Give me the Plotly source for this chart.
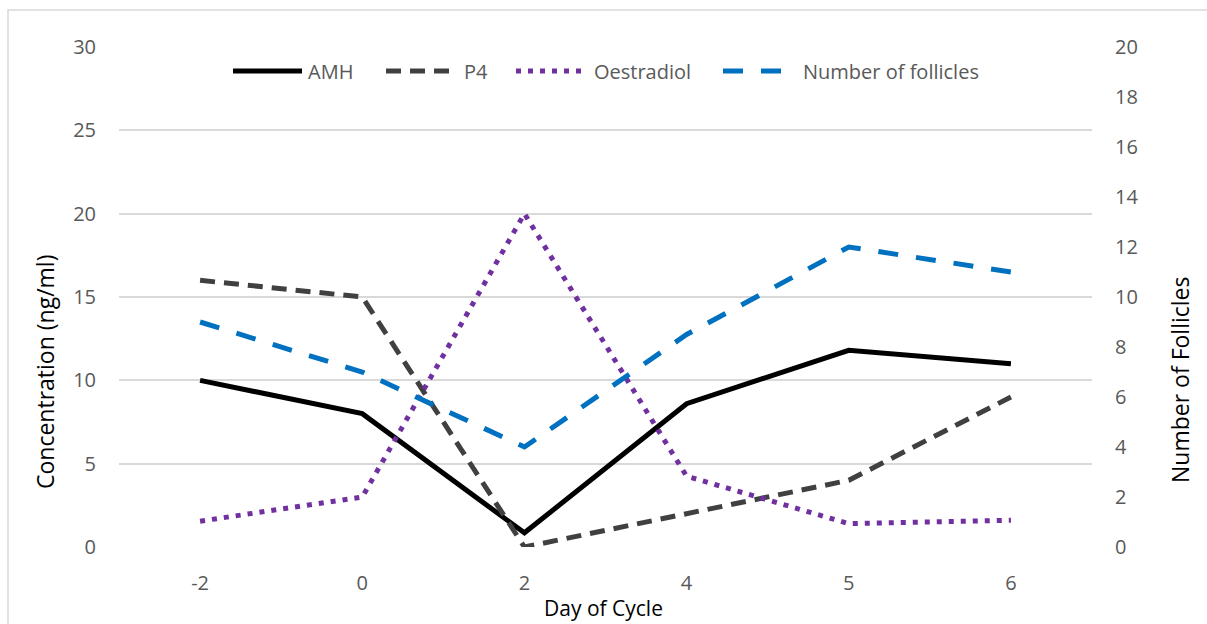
import plotly.graph_objects as go

# Data
days = ["-2", "0", "2", "4", "5", "6"]
amh = [10.0, 8.0, 0.85, 8.6, 11.8, 11.0]
p4 = [16.0, 15.0, 0.0, 2.0, 4.0, 9.0]
oestradiol = [1.55, 3.0, 20.0, 4.25, 1.4, 1.6]
follicles = [9.0, 7.0, 4.0, 8.5, 12.0, 11.0]

left_ticks = [0, 5, 10, 15, 20, 25, 30]
right_ticks = [0, 2, 4, 6, 8, 10, 12, 14, 16, 18, 20]

W, H = 1207, 624
ML, MR, MT, MB = 119, 115, 47, 77
PW, PH = W - ML - MR, H - MT - MB

FONT = "Open Sans"
TICK_COLOR = "#595959"
GRID = "#D9D9D9"

series = [
    dict(name="AMH", y=amh, color="#000000", dash="solid", width=5, axis="y"),
    dict(name="P4", y=p4, color="#404040", dash="15px,9px", width=5, axis="y"),
    dict(name="Oestradiol", y=oestradiol, color="#7030A0", dash="5px,7px", width=5, axis="y"),
    dict(name="Number of follicles", y=follicles, color="#0070C0", dash="20px,18px", width=5, axis="y2"),
]

fig = go.Figure()
for s in series:
    fig.add_trace(go.Scatter(
        x=days, y=s["y"], name=s["name"], mode="lines", yaxis=s["axis"],
        line=dict(color=s["color"], dash=s["dash"], width=s["width"]),
        showlegend=False,
    ))


def px_x(x):
    return (x - ML) / PW


def px_y(y):
    return (H - MB - y) / PH


# Legend row across the top of the plot
legend_items = [(233, 302, 306), (386, 452, 462), (516, 585, 592), (723, 792, 801)]
shapes = []
annotations = []
ly = px_y(71)
for s, (x0, x1, tx) in zip(series, legend_items):
    shapes.append(dict(type="line", xref="paper", yref="paper",
                       x0=px_x(x0), x1=px_x(x1), y0=ly, y1=ly,
                       line=dict(color=s["color"], dash=s["dash"], width=s["width"])))
    annotations.append(dict(xref="paper", yref="paper", x=px_x(tx), y=ly,
                            text=s["name"], showarrow=False, xanchor="left", yanchor="middle",
                            font=dict(family=FONT, size=20, color=TICK_COLOR)))

# Chart border
shapes.append(dict(type="rect", xref="paper", yref="paper", layer="below",
                   x0=px_x(8), x1=px_x(W + 5), y0=px_y(H + 5), y1=px_y(10),
                   line=dict(color=GRID, width=1.5)))

# Axis titles
annotations.append(dict(xref="paper", yref="paper", x=px_x(45), y=px_y(372),
                        text="Concentration (ng/ml)", showarrow=False, textangle=-90,
                        xanchor="center", yanchor="middle",
                        font=dict(family=FONT, size=23, color="#000000")))
annotations.append(dict(xref="paper", yref="paper", x=px_x(1180), y=px_y(380),
                        text="Number of Follicles", showarrow=False, textangle=-90,
                        xanchor="center", yanchor="middle",
                        font=dict(family=FONT, size=23, color="#000000")))
annotations.append(dict(xref="paper", yref="paper", x=px_x(603), y=px_y(608),
                        text="Day of Cycle", showarrow=False,
                        xanchor="center", yanchor="middle",
                        font=dict(family=FONT, size=21, color="#000000")))

fig.update_layout(
    width=W, height=H,
    margin=dict(l=ML, r=MR, t=MT, b=MB, autoexpand=False),
    paper_bgcolor="white", plot_bgcolor="white",
    font=dict(family=FONT, size=20, color=TICK_COLOR),
    xaxis=dict(type="category", range=[-0.5, 5.5], showgrid=False, zeroline=False,
               showline=False, tickfont=dict(family=FONT, size=20, color=TICK_COLOR),
               ticks="", ticklabelstandoff=22),
    yaxis=dict(range=[0, 30], tickvals=left_ticks, showgrid=True, gridcolor=GRID,
               gridwidth=1.5, zeroline=False, showline=False, ticks="",
               tickfont=dict(family=FONT, size=20, color=TICK_COLOR),
               ticklabelstandoff=22),
    yaxis2=dict(range=[0, 20], tickvals=right_ticks, overlaying="y", side="right",
                showgrid=False, zeroline=False, showline=False, ticks="",
                tickfont=dict(family=FONT, size=20, color=TICK_COLOR),
                ticklabelstandoff=22),
    shapes=shapes,
    annotations=annotations,
)

fig.write_html("out.html")
